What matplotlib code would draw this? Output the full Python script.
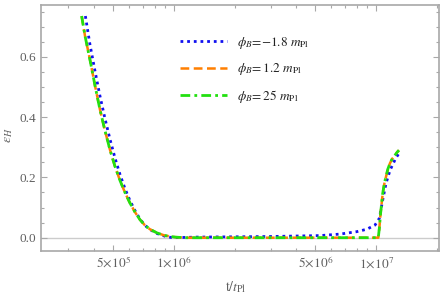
import numpy as np
import matplotlib
matplotlib.use('Agg')
import matplotlib.pyplot as plt
from matplotlib.ticker import FixedLocator, MultipleLocator, NullFormatter

# values
t_fall = [3.489e5, 3.623e5, 3.836e5, 4.060e5, 4.297e5, 4.550e5, 4.815e5, 5.097e5,
          5.397e5, 5.712e5, 6.048e5, 6.402e5, 6.776e5, 7.175e5, 7.596e5, 8.226e5,
          9.011e5, 1.0095e6, 1.131e6]
t_rest = [1.5e6, 3.0e6, 6.0e6, 1.0e7, 1.023e7, 1.035e7, 1.05e7, 1.076e7, 1.10e7,
          1.117e7, 1.14e7, 1.169e7, 1.20e7, 1.238e7, 1.27e7, 1.295e7]

eps_orange = [0.735, 0.670, 0.590, 0.505, 0.425, 0.355, 0.292, 0.237, 0.190, 0.150,
              0.115, 0.085, 0.060, 0.041, 0.028, 0.016, 0.007, 0.002, 0.0,
              0.0, 0.0, 0.0, 0.0, 0.0, 0.03, 0.08, 0.147, 0.185, 0.202, 0.227,
              0.247, 0.262, 0.274, 0.284, 0.290]
eps_green = [0.735, 0.670, 0.590, 0.505, 0.425, 0.355, 0.292, 0.237, 0.190, 0.150,
             0.115, 0.085, 0.060, 0.041, 0.028, 0.016, 0.007, 0.002, 0.0,
             0.0, 0.0, 0.0, 0.0, 0.0, 0.03, 0.08, 0.147, 0.185, 0.202, 0.227,
             0.247, 0.262, 0.274, 0.284, 0.290]

t_blue = [3.64e5, 3.836e5, 4.060e5, 4.297e5, 4.550e5, 4.815e5, 5.097e5, 5.397e5,
          5.712e5, 6.048e5, 6.402e5, 6.776e5, 7.175e5, 7.596e5, 8.226e5, 9.011e5,
          9.8e5, 1.06e6, 1.3e6, 2.0e6, 3.0e6, 4.36e6, 5.27e6, 6.62e6, 8.0e6,
          8.97e6, 9.86e6, 1.035e7, 1.076e7, 1.117e7, 1.17e7, 1.247e7, 1.31e7]
eps_blue = [0.735, 0.640, 0.553, 0.470, 0.395, 0.327, 0.265, 0.210, 0.163, 0.123,
            0.090, 0.062, 0.041, 0.027, 0.014, 0.005, 0.0, 0.0005, 0.002, 0.003,
            0.004, 0.006, 0.007, 0.012, 0.020, 0.028, 0.042, 0.064, 0.125, 0.180,
            0.224, 0.263, 0.285]

labels = [r'$\phi_B\!=\!{-}1.8\ m_{\rm Pl}$', r'$\phi_B\!= 1.2\ m_{\rm Pl}$',
          r'$\phi_B\!= 25\ m_{\rm Pl}$']

xticks = [5e5, 1e6, 5e6, 1e7]
xticklabels = [r'$5\!\times\!10^5$', r'$1\!\times\!10^6$', r'$5\!\times\!10^6$', r'$1\!\times\!10^7$']
yticks = [0.0, 0.2, 0.4, 0.6]

plt.rcParams['font.family'] = ['Liberation Serif', 'DejaVu Serif']
plt.rcParams['mathtext.fontset'] = 'stix'

t_orange = t_fall + t_rest
frame = '#a8a8a8'
txt = '#606060'

fig = plt.figure(figsize=(4.42, 2.98), dpi=100)
ax = fig.add_axes([0.0934, 0.1587, 0.9009, 0.8243])

ax.axhline(0, color='#cccccc', lw=1.0, zorder=1)
ax.plot(t_blue, eps_blue, color='#1010f0', lw=2.0, ls=(0, (1, 1.4)), label=labels[0])
ax.plot(t_orange, eps_orange, color='#ff7f00', lw=1.8, ls=(0, (3.5, 1.8)), label=labels[1])
ax.plot(t_orange, eps_green, color='#22e010', lw=2.0, ls=(0, (3.5, 1.5, 1, 1.5)), label=labels[2])

ax.set_xscale('log')
ax.set_xlim(2.203e5, 2.054e7)
ax.set_ylim(-0.0431, 0.7714)

ax.xaxis.set_major_locator(FixedLocator(xticks))
ax.set_xticklabels(xticklabels)
minor_x = [m * 10**e for e in (5, 6, 7) for m in range(1, 10)]
minor_x = [v for v in minor_x if v not in xticks]
ax.xaxis.set_minor_locator(FixedLocator(minor_x))
ax.xaxis.set_minor_formatter(NullFormatter())
ax.yaxis.set_major_locator(FixedLocator(yticks))
ax.set_yticklabels(['0.0', '0.2', '0.4', '0.6'])
ax.yaxis.set_minor_locator(MultipleLocator(0.05))

ax.tick_params(which='both', direction='in', top=True, right=True,
               colors=frame, labelcolor=txt, labelsize=9.5, width=0.8)
ax.tick_params(which='major', length=4)
ax.tick_params(which='minor', length=2.2)
for s in ax.spines.values():
    s.set_color(frame)
    s.set_linewidth(1.2)

ax.set_xlabel(r'$\mathrm{t}/t_{\rm Pl}$', color=txt, fontsize=10)
ax.set_ylabel(r'$\epsilon_H$', color=txt, fontsize=10)
ax.xaxis.set_label_coords(0.489, -0.118)
ax.yaxis.set_label_coords(-0.065, 0.47)

leg = ax.legend(loc='upper left', bbox_to_anchor=(0.335, 0.90), frameon=False,
                fontsize=9.5, handlelength=3.6, handletextpad=0.7,
                labelspacing=0.8, borderaxespad=0)
for t in leg.get_texts():
    t.set_color('#222222')

fig.savefig('out.png', dpi=100)
